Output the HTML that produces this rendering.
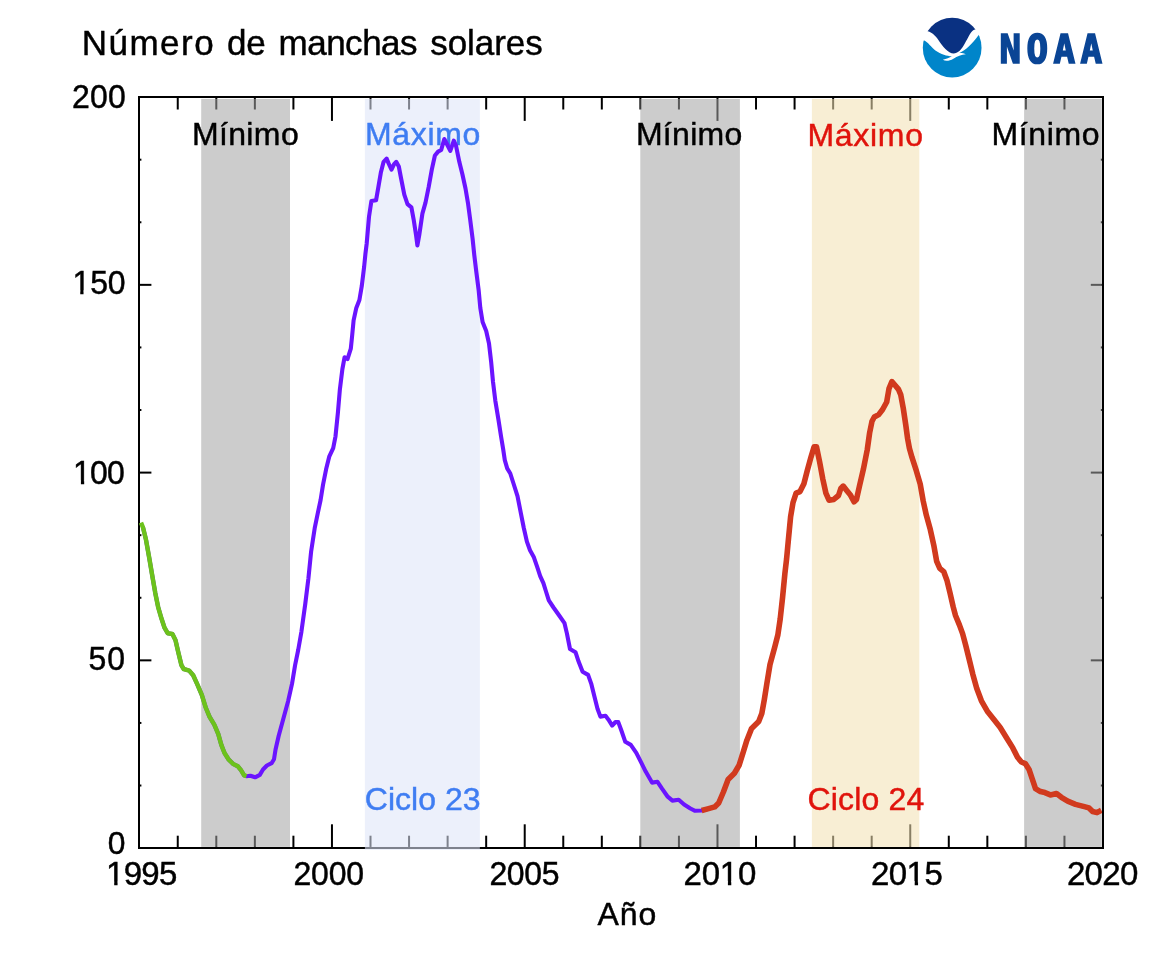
<!DOCTYPE html>
<html lang="es">
<head>
<meta charset="utf-8">
<title>Número de manchas solares</title>
<style>
html,body{margin:0;padding:0;background:#fff;}
body{width:1154px;height:956px;overflow:hidden;}
svg{display:block;}
text{font-family:"Liberation Sans", Arial, Helvetica, sans-serif;}
</style>
</head>
<body>
<svg width="1154" height="956" viewBox="0 0 1154 956">
<rect x="0" y="0" width="1154" height="956" fill="#ffffff"/>
<g stroke="#000" stroke-width="2" fill="none">
<line x1="177.75" y1="97.1" x2="177.75" y2="109.5"/>
<line x1="177.75" y1="848.1" x2="177.75" y2="835.7"/>
<line x1="216.30" y1="97.1" x2="216.30" y2="109.5"/>
<line x1="216.30" y1="848.1" x2="216.30" y2="835.7"/>
<line x1="254.86" y1="97.1" x2="254.86" y2="109.5"/>
<line x1="254.86" y1="848.1" x2="254.86" y2="835.7"/>
<line x1="293.41" y1="97.1" x2="293.41" y2="109.5"/>
<line x1="293.41" y1="848.1" x2="293.41" y2="835.7"/>
<line x1="331.96" y1="97.1" x2="331.96" y2="120.9"/>
<line x1="331.96" y1="848.1" x2="331.96" y2="824.3"/>
<line x1="370.51" y1="97.1" x2="370.51" y2="109.5"/>
<line x1="370.51" y1="848.1" x2="370.51" y2="835.7"/>
<line x1="409.06" y1="97.1" x2="409.06" y2="109.5"/>
<line x1="409.06" y1="848.1" x2="409.06" y2="835.7"/>
<line x1="447.62" y1="97.1" x2="447.62" y2="109.5"/>
<line x1="447.62" y1="848.1" x2="447.62" y2="835.7"/>
<line x1="486.17" y1="97.1" x2="486.17" y2="109.5"/>
<line x1="486.17" y1="848.1" x2="486.17" y2="835.7"/>
<line x1="524.72" y1="97.1" x2="524.72" y2="120.9"/>
<line x1="524.72" y1="848.1" x2="524.72" y2="824.3"/>
<line x1="563.27" y1="97.1" x2="563.27" y2="109.5"/>
<line x1="563.27" y1="848.1" x2="563.27" y2="835.7"/>
<line x1="601.82" y1="97.1" x2="601.82" y2="109.5"/>
<line x1="601.82" y1="848.1" x2="601.82" y2="835.7"/>
<line x1="640.38" y1="97.1" x2="640.38" y2="109.5"/>
<line x1="640.38" y1="848.1" x2="640.38" y2="835.7"/>
<line x1="678.93" y1="97.1" x2="678.93" y2="109.5"/>
<line x1="678.93" y1="848.1" x2="678.93" y2="835.7"/>
<line x1="717.48" y1="97.1" x2="717.48" y2="120.9"/>
<line x1="717.48" y1="848.1" x2="717.48" y2="824.3"/>
<line x1="756.03" y1="97.1" x2="756.03" y2="109.5"/>
<line x1="756.03" y1="848.1" x2="756.03" y2="835.7"/>
<line x1="794.58" y1="97.1" x2="794.58" y2="109.5"/>
<line x1="794.58" y1="848.1" x2="794.58" y2="835.7"/>
<line x1="833.14" y1="97.1" x2="833.14" y2="109.5"/>
<line x1="833.14" y1="848.1" x2="833.14" y2="835.7"/>
<line x1="871.69" y1="97.1" x2="871.69" y2="109.5"/>
<line x1="871.69" y1="848.1" x2="871.69" y2="835.7"/>
<line x1="910.24" y1="97.1" x2="910.24" y2="120.9"/>
<line x1="910.24" y1="848.1" x2="910.24" y2="824.3"/>
<line x1="948.79" y1="97.1" x2="948.79" y2="109.5"/>
<line x1="948.79" y1="848.1" x2="948.79" y2="835.7"/>
<line x1="987.34" y1="97.1" x2="987.34" y2="109.5"/>
<line x1="987.34" y1="848.1" x2="987.34" y2="835.7"/>
<line x1="1025.90" y1="97.1" x2="1025.90" y2="109.5"/>
<line x1="1025.90" y1="848.1" x2="1025.90" y2="835.7"/>
<line x1="1064.45" y1="97.1" x2="1064.45" y2="109.5"/>
<line x1="1064.45" y1="848.1" x2="1064.45" y2="835.7"/>
<line x1="139.2" y1="660.35" x2="151.4" y2="660.35"/>
<line x1="1103.0" y1="660.35" x2="1090.8" y2="660.35"/>
<line x1="139.2" y1="472.60" x2="151.4" y2="472.60"/>
<line x1="1103.0" y1="472.60" x2="1090.8" y2="472.60"/>
<line x1="139.2" y1="284.85" x2="151.4" y2="284.85"/>
<line x1="1103.0" y1="284.85" x2="1090.8" y2="284.85"/>
<line x1="139.2" y1="785.52" x2="141.4" y2="785.52"/>
<line x1="1103.0" y1="785.52" x2="1100.8" y2="785.52"/>
<line x1="139.2" y1="722.93" x2="141.4" y2="722.93"/>
<line x1="1103.0" y1="722.93" x2="1100.8" y2="722.93"/>
<line x1="139.2" y1="597.77" x2="141.4" y2="597.77"/>
<line x1="1103.0" y1="597.77" x2="1100.8" y2="597.77"/>
<line x1="139.2" y1="535.18" x2="141.4" y2="535.18"/>
<line x1="1103.0" y1="535.18" x2="1100.8" y2="535.18"/>
<line x1="139.2" y1="410.02" x2="141.4" y2="410.02"/>
<line x1="1103.0" y1="410.02" x2="1100.8" y2="410.02"/>
<line x1="139.2" y1="347.43" x2="141.4" y2="347.43"/>
<line x1="1103.0" y1="347.43" x2="1100.8" y2="347.43"/>
<line x1="139.2" y1="222.27" x2="141.4" y2="222.27"/>
<line x1="1103.0" y1="222.27" x2="1100.8" y2="222.27"/>
<line x1="139.2" y1="159.68" x2="141.4" y2="159.68"/>
<line x1="1103.0" y1="159.68" x2="1100.8" y2="159.68"/>
</g>
<rect x="201.2" y="98.9" width="88.8" height="748.0" fill="rgba(162,162,162,0.55)"/>
<rect x="640.3" y="98.9" width="99.6" height="748.0" fill="rgba(162,162,162,0.55)"/>
<rect x="1024.1" y="98.9" width="77.7" height="748.0" fill="rgba(162,162,162,0.55)"/>
<rect x="364.9" y="98.9" width="115.0" height="750.5" fill="rgba(222,229,248,0.57)"/>
<rect x="811.9" y="98.9" width="107.4" height="748.0" fill="rgba(243,224,178,0.56)"/>
<g stroke="#000" stroke-width="2.0" fill="none" stroke-linecap="square">
<line x1="139.2" y1="97.1" x2="1103.0" y2="97.1"/>
<line x1="139.0" y1="97.1" x2="139.0" y2="848.1"/>
<line x1="1103.0" y1="97.1" x2="1103.0" y2="848.1"/>
</g>
<line x1="139.2" y1="848.1" x2="1103.0" y2="848.1" stroke="#000" stroke-width="2.0" stroke-linecap="square"/>
<rect x="364.9" y="846.9" width="115.0" height="2.6" fill="rgba(222,229,248,0.57)"/>
<text x="191.88" y="145.30" font-size="32.00" fill="#000" stroke="#000" stroke-width="0.45" letter-spacing="0.382">Mínimo</text>
<text x="364.97" y="145.30" font-size="32.00" fill="#3f7df2" stroke="#3f7df2" stroke-width="0.45" letter-spacing="0.668">Máximo</text>
<text x="635.89" y="145.30" font-size="32.00" fill="#000" stroke="#000" stroke-width="0.45" letter-spacing="0.313">Mínimo</text>
<text x="807.51" y="145.60" font-size="32.00" fill="#e0140c" stroke="#e0140c" stroke-width="0.45" letter-spacing="0.689">Máximo</text>
<text x="991.59" y="145.40" font-size="32.00" fill="#000" stroke="#000" stroke-width="0.45" letter-spacing="0.606">Mínimo</text>
<text x="364.72" y="809.90" font-size="32.00" fill="#3f7df2" stroke="#3f7df2" stroke-width="0.45" letter-spacing="0.047">Ciclo 23</text>
<text x="807.61" y="810.10" font-size="32.00" fill="#e0140c" stroke="#e0140c" stroke-width="0.45" letter-spacing="0.144">Ciclo 24</text>
<g fill="none" stroke-linejoin="round" stroke-linecap="round">
<polyline stroke="#6b14ff" stroke-width="4.1" points="143.0,527.5 146.0,539.8 149.1,557.1 152.3,575.9 155.3,593.2 158.2,607.3 161.4,618.3 164.5,627.7 167.7,633.2 172.4,634.0 175.5,640.2 178.4,652.7 181.4,665.1 183.7,669.0 189.2,670.6 193.2,675.3 197.1,683.9 201.8,694.9 205.7,707.5 209.6,716.9 214.3,724.7 218.3,734.1 221.4,745.1 224.5,753.0 228.5,759.3 233.2,764.0 237.9,766.3 241.0,770.2 244.1,775.3 246.5,776.2 250.4,775.7 255.1,777.3 259.8,774.9 263.0,769.5 266.9,765.5 271.6,763.2 274.0,759.3 275.5,749.8 278.7,735.7 283.4,718.5 288.1,701.2 292.0,683.9 295.1,665.1 298.2,650.0 301.4,631.8 305.3,603.6 308.4,578.5 311.1,551.8 314.7,528.2 317.9,512.6 320.6,500.0 323.0,484.9 326.1,469.3 329.2,456.7 333.2,448.1 335.5,436.3 337.9,412.8 339.9,389.2 342.4,369.0 344.6,357.2 347.5,359.1 350.8,348.7 352.1,336.1 353.6,320.4 356.3,307.9 359.4,300.0 361.8,285.9 364.1,267.1 365.4,254.0 366.7,243.4 369.0,216.7 371.4,201.0 376.1,200.2 378.4,186.9 380.8,172.8 383.6,161.8 386.6,158.6 388.6,163.4 391.5,169.6 394.1,164.1 396.2,161.8 398.8,166.5 401.2,179.0 404.3,194.7 407.5,204.1 411.4,207.3 413.7,219.8 416.1,235.5 417.4,245.4 419.2,235.5 422.4,213.6 425.5,202.6 428.7,186.9 431.8,169.6 434.9,155.5 438.1,151.6 441.2,150.0 444.3,139.0 447.5,145.3 450.3,150.8 453.8,140.6 456.1,146.1 459.3,161.8 462.4,174.3 465.5,188.5 467.9,202.6 470.2,219.8 472.6,238.7 474.3,255.2 476.3,271.8 478.7,290.6 480.3,307.9 482.6,322.0 486.2,331.0 489.0,343.5 491.1,361.4 493.0,381.8 495.3,400.6 498.4,419.4 501.1,436.7 503.2,449.3 504.8,460.1 507.2,468.4 510.3,473.5 513.5,483.5 517.5,496.1 520.6,511.8 523.7,527.5 526.9,541.6 530.0,550.2 533.9,557.3 537.1,566.7 540.2,576.1 543.4,583.2 546.0,591.5 548.8,600.4 553.5,607.5 559.0,615.3 564.5,623.2 566.9,633.4 570.0,649.0 575.5,652.2 578.6,661.6 582.6,671.8 588.1,674.9 591.2,683.6 594.3,696.1 597.5,708.7 600.4,716.6 605.5,715.8 608.5,719.7 612.2,725.6 615.5,722.0 618.3,722.1 621.2,730.0 625.3,741.8 630.8,744.9 636.3,752.8 641.0,762.2 645.7,771.6 652.0,782.6 657.5,781.8 662.2,788.9 667.7,796.7 672.4,800.6 678.7,799.8 684.1,804.5 690.4,808.5 695.1,810.8 701.7,810.5 707.7,808.9 714.7,806.9 718.7,803.0 723.4,792.0 728.1,779.4 734.4,773.2 739.1,765.3 743.0,752.8 746.9,740.2 751.6,728.4 758.7,721.4 761.8,713.5 764.3,699.7 766.9,683.4 770.0,664.5 774.7,647.3 777.9,634.7 780.2,619.0 782.6,597.1 784.9,573.5 786.6,558.9 788.2,541.8 790.6,516.7 793.0,502.6 796.1,493.2 800.0,491.6 803.9,483.7 807.1,471.2 811.0,457.1 814.1,446.9 816.5,446.9 819.6,461.8 822.8,479.0 825.9,493.2 829.0,500.2 833.8,499.4 838.5,495.5 840.8,488.5 843.2,486.1 846.3,490.0 850.2,494.7 854.1,501.8 856.5,499.4 859.4,486.4 863.4,469.2 867.3,449.5 869.6,433.0 872.0,421.3 874.3,417.0 878.7,414.6 882.6,409.5 886.7,402.0 889.0,388.6 891.9,381.6 895.3,385.5 898.5,389.4 900.8,394.9 903.3,408.5 905.7,424.5 907.6,438.5 909.4,448.3 912.0,457.4 916.3,470.7 920.2,484.0 923.2,501.0 926.3,515.1 930.3,529.6 933.8,545.3 936.7,561.4 939.8,568.4 943.7,571.6 946.9,580.2 950.0,592.8 953.2,606.9 955.5,615.5 959.4,624.9 962.6,633.6 965.7,645.3 969.6,661.0 972.8,674.2 976.7,688.2 981.4,700.8 987.7,711.8 993.9,719.6 1000.2,727.5 1006.5,737.7 1012.8,747.9 1017.5,757.3 1021.4,762.0 1025.3,763.6 1029.2,769.8 1032.4,779.3 1035.5,788.7 1040.4,791.6 1044.9,792.6 1050.4,794.9 1056.5,793.6 1061.4,797.3 1067.7,801.2 1075.5,804.4 1083.4,806.4 1089.0,807.9 1092.6,811.5 1097.0,812.6"/>
<polyline stroke="#6cc21c" stroke-width="4.5" stroke-linecap="butt" points="141.0,522.6 143.0,527.5 146.0,539.8 149.1,557.1 152.3,575.9 155.3,593.2 158.2,607.3 161.4,618.3 164.5,627.7 167.7,633.2 172.4,634.0 175.5,640.2 178.4,652.7 181.4,665.1 183.7,669.0 189.2,670.6 193.2,675.3 197.1,683.9 201.8,694.9 205.7,707.5 209.6,716.9 214.3,724.7 218.3,734.1 221.4,745.1 224.5,753.0 228.5,759.3 233.2,764.0 237.9,766.3 241.0,770.2 244.1,775.3 246.5,776.2"/>
<polyline stroke="#d13a1e" stroke-width="5.6" stroke-linecap="butt" points="701.7,810.5 707.7,808.9 714.7,806.9 718.7,803.0 723.4,792.0 728.1,779.4 734.4,773.2 739.1,765.3 743.0,752.8 746.9,740.2 751.6,728.4 758.7,721.4 761.8,713.5 764.3,699.7 766.9,683.4 770.0,664.5 774.7,647.3 777.9,634.7 780.2,619.0 782.6,597.1 784.9,573.5 786.6,558.9 788.2,541.8 790.6,516.7 793.0,502.6 796.1,493.2 800.0,491.6 803.9,483.7 807.1,471.2 811.0,457.1 814.1,446.9 816.5,446.9 819.6,461.8 822.8,479.0 825.9,493.2 829.0,500.2 833.8,499.4 838.5,495.5 840.8,488.5 843.2,486.1 846.3,490.0 850.2,494.7 854.1,501.8 856.5,499.4 859.4,486.4 863.4,469.2 867.3,449.5 869.6,433.0 872.0,421.3 874.3,417.0 878.7,414.6 882.6,409.5 886.7,402.0 889.0,388.6 891.9,381.6 895.3,385.5 898.5,389.4 900.8,394.9 903.3,408.5 905.7,424.5 907.6,438.5 909.4,448.3 912.0,457.4 916.3,470.7 920.2,484.0 923.2,501.0 926.3,515.1 930.3,529.6 933.8,545.3 936.7,561.4 939.8,568.4 943.7,571.6 946.9,580.2 950.0,592.8 953.2,606.9 955.5,615.5 959.4,624.9 962.6,633.6 965.7,645.3 969.6,661.0 972.8,674.2 976.7,688.2 981.4,700.8 987.7,711.8 993.9,719.6 1000.2,727.5 1006.5,737.7 1012.8,747.9 1017.5,757.3 1021.4,762.0 1025.3,763.6 1029.2,769.8 1032.4,779.3 1035.5,788.7 1040.4,791.6 1044.9,792.6 1050.4,794.9 1056.5,793.6 1061.4,797.3 1067.7,801.2 1075.5,804.4 1083.4,806.4 1089.0,807.9 1092.6,811.5 1097.0,812.6 1101.3,810.3"/>
</g>
<line x1="1103.0" y1="97.1" x2="1103.0" y2="848.1" stroke="#000" stroke-width="2.0" stroke-linecap="square"/>
<text x="72.05" y="108.20" font-size="32.00" fill="#000" stroke="#000" stroke-width="0.45" letter-spacing="0.160" transform="matrix(1 0 0 1.0500 0 -5.410)">200</text>
<text x="72.43" y="293.90" font-size="32.00" fill="#000" stroke="#000" stroke-width="0.45" letter-spacing="-0.082" transform="matrix(1 0 0 1.0500 0 -14.695)">150</text>
<text x="73.09" y="483.90" font-size="32.00" fill="#000" stroke="#000" stroke-width="0.45" letter-spacing="-0.807" transform="matrix(1 0 0 1.0500 0 -24.195)">100</text>
<text x="88.58" y="669.90" font-size="32.00" fill="#000" stroke="#000" stroke-width="0.45" letter-spacing="0.916" transform="matrix(1 0 0 1.0500 0 -33.495)">50</text>
<text x="107.67" y="853.90" font-size="31.80" fill="#000" stroke="#000" stroke-width="0.45" letter-spacing="0.000">0</text>
<text x="106.12" y="885.00" font-size="33.00" fill="#000" stroke="#000" stroke-width="0.45" letter-spacing="-0.759">1995</text>
<text x="293.43" y="884.60" font-size="32.00" fill="#000" stroke="#000" stroke-width="0.45" letter-spacing="-0.169" transform="matrix(1 0 0 1.0500 0 -44.230)">2000</text>
<text x="489.44" y="884.60" font-size="32.00" fill="#000" stroke="#000" stroke-width="0.45" letter-spacing="-0.353" transform="matrix(1 0 0 1.0500 0 -44.230)">2005</text>
<text x="683.60" y="884.60" font-size="33.00" fill="#000" stroke="#000" stroke-width="0.45" letter-spacing="-0.235">2010</text>
<text x="870.94" y="884.60" font-size="33.00" fill="#000" stroke="#000" stroke-width="0.45" letter-spacing="-0.511">2015</text>
<text x="1066.88" y="884.60" font-size="33.00" fill="#000" stroke="#000" stroke-width="0.45" letter-spacing="-0.621">2020</text>
<text x="597.47" y="924.90" font-size="32.00" fill="#000" stroke="#000" stroke-width="0.45" letter-spacing="0.890">Año</text>
<rect x="73.34" y="290.45" width="6.91" height="5.15" fill="#fff"/>
<rect x="83.52" y="290.45" width="6.26" height="5.15" fill="#fff"/>
<rect x="74.00" y="480.45" width="6.91" height="5.15" fill="#fff"/>
<rect x="84.19" y="480.45" width="6.26" height="5.15" fill="#fff"/>
<rect x="107.11" y="881.61" width="7.08" height="5.09" fill="#fff"/>
<rect x="117.56" y="881.61" width="6.43" height="5.09" fill="#fff"/>
<rect x="720.82" y="881.21" width="7.08" height="5.09" fill="#fff"/>
<rect x="731.27" y="881.21" width="6.43" height="5.09" fill="#fff"/>
<rect x="907.61" y="881.21" width="7.08" height="5.09" fill="#fff"/>
<rect x="918.06" y="881.21" width="6.43" height="5.09" fill="#fff"/>
<text y="54.60" font-size="35" fill="#000" stroke="#000" stroke-width="0.45"><tspan x="81.68" letter-spacing="1.518">Número</tspan> <tspan x="226.88" letter-spacing="-0.172">de</tspan> <tspan x="278.48" letter-spacing="-0.482">manchas</tspan> <tspan x="430.21" letter-spacing="-0.059">solares</tspan></text>
<defs><clipPath id="lc"><ellipse cx="474" cy="481" rx="374.5" ry="381"/></clipPath></defs>
<g transform="translate(915,10) scale(0.078431)" clip-path="url(#lc)">
<path fill="#0a3182" d="M100,50 L900,50 L900,230 L765,248 C715,262 690,330 650,400 C615,470 575,545 495,555 C420,550 350,460 300,385 C255,320 215,290 165,272 L100,260 Z"/>
<path fill="#0085ca" d="M60,372 L118,390 C165,410 200,470 260,515 C330,565 410,585 470,590 C440,610 400,625 355,635 C390,655 440,650 490,620 C540,590 590,570 648,565 C625,552 590,548 560,550 C640,520 730,430 812,318 L900,200 L900,900 L60,900 Z"/>
</g>
<text x="1110.67" y="62.9" font-family="DejaVu Sans Mono, Liberation Mono, monospace" style="font-family:'DejaVu Sans Mono','Liberation Mono',monospace" font-size="39.80" font-weight="bold" fill="#0a4595" stroke="#0a4595" stroke-width="1.7" stroke-linejoin="miter" letter-spacing="6.04" transform="scale(0.9000 1)">NOAA</text>
</svg>
</body>
</html>
